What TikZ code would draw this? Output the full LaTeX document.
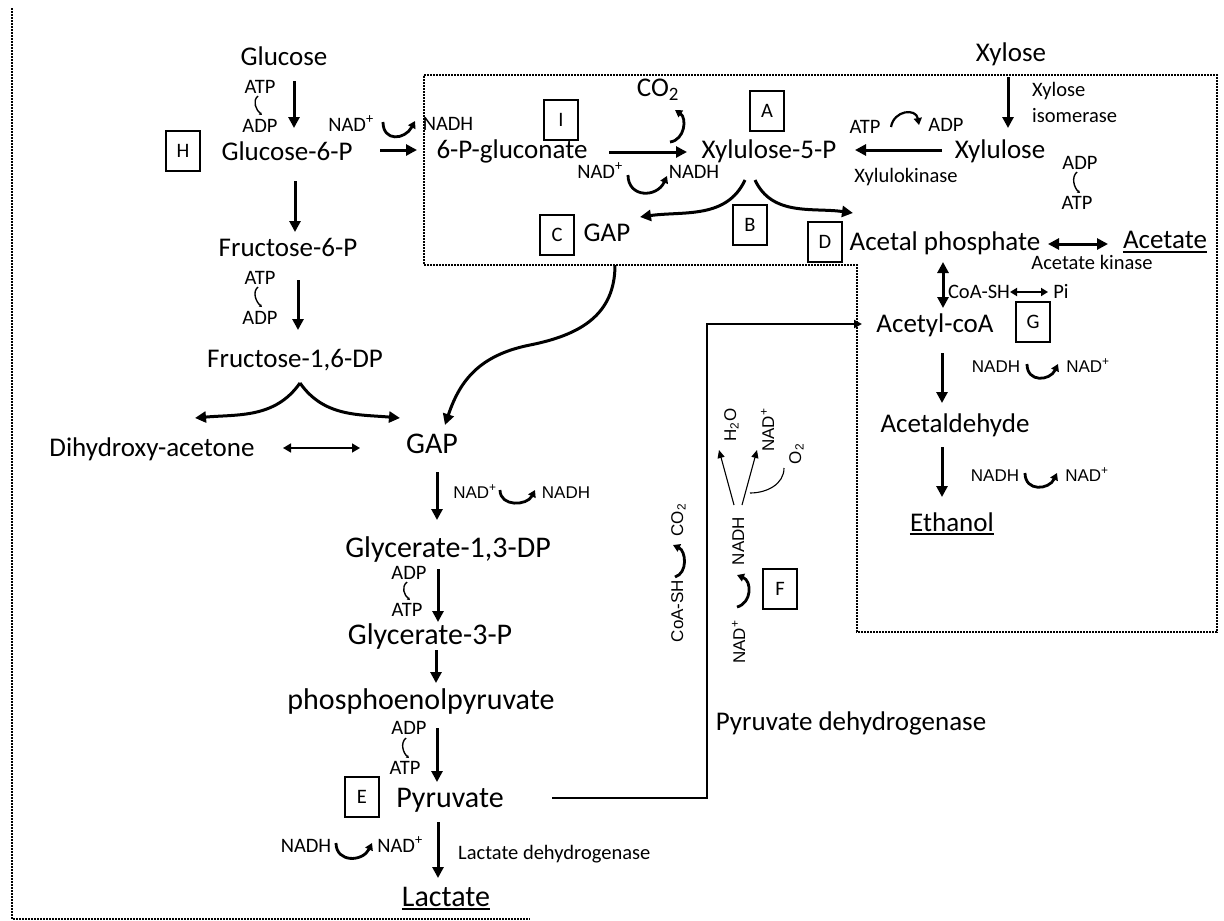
\documentclass[tikz,border=0pt]{standalone}
\usepackage{fontspec}
\setmainfont{Carlito}
\newfontfamily\arialfam{Liberation Sans}
\usetikzlibrary{arrows.meta}
\newcommand\FMain{\fontsize{27}{30}\selectfont}
\newcommand\FBig{\fontsize{30}{34}\selectfont}
\newcommand\FSmall{\fontsize{20.5}{24}\selectfont}
\newcommand\FAri{\arialfam\fontsize{17}{20}\selectfont}
\newcommand\nadp{NAD\textsuperscript{+}}
\tikzset{
 mn/.style={inner sep=0pt, font=\FMain, text height=17pt, text depth=0pt},
 bg/.style={inner sep=0pt, font=\FBig, text height=19pt, text depth=0pt},
 sm/.style={inner sep=0pt, font=\FSmall, text height=13pt, text depth=0pt},
 ar/.style={inner sep=0pt, font=\FAri, text height=12.2pt, text depth=0pt},
 lbox/.style={draw, line width=1.2pt, minimum width=34pt, minimum height=40pt, inner sep=0pt, font=\FSmall},
 arr/.style={line width=3pt, -{Triangle[length=11pt,width=11pt]}},
 darr/.style={line width=3pt, {Triangle[length=11pt,width=11pt]}-{Triangle[length=11pt,width=11pt]}},
 cof/.style={line width=2.8pt, -{Triangle[length=7pt,width=8pt]}},
 brk/.style={line width=1.4pt, -{Stealth[length=3pt,width=3.5pt]}},
 thinarr/.style={line width=1.1pt, -{Triangle[length=8pt,width=7pt]}},
 dots/.style={line width=1.6pt, dash pattern=on 1.6pt off 1.4pt},
 ul/.style={line width=1.6pt},
}
\begin{document}
\begin{tikzpicture}[x=1pt,y=1pt]
\useasboundingbox (0,0) rectangle (1224,-921);
% dotted regions
\draw[dots] (12,-8) -- (12,-919) -- (530,-919);
\draw[dots] (424,-75) -- (1217,-75) -- (1217,-632) -- (857,-632) -- (857,-265) -- (424,-265) -- cycle;

% glycolysis column
\node[mn] (glc) at (284,-57) {Glucose};
\node[sm] (atp1) at (260,-87) {ATP};
\node[sm] (adp1) at (260,-126) {ADP};
\node[lbox] (H) at (183,-151) {H};
\node[mn] (g6p) at (287,-152) {Glucose-6-P};
\node[sm] (nad1) at (351,-125) {\nadp};
\node[sm] (nadh1) at (448,-124) {NADH};
\node[mn] (f6p) at (288,-248) {Fructose-6-P};
\node[sm] (atp2) at (260,-278) {ATP};
\node[sm] (adp2) at (260,-318) {ADP};
\node[mn] (f16) at (295,-359) {Fructose-1,6-DP};
\node[mn] (dha) at (152,-448) {Dihydroxy-acetone};
\node[bg] (gap) at (432,-444) {GAP};
\node[ar] (nad2) at (475,-492) {\nadp};
\node[ar] (nadh2) at (566,-492) {NADH};
\node[bg] (g13) at (448,-548) {Glycerate-1,3-DP};
\node[sm] (adp3) at (409,-573) {ADP};
\node[sm] (atp3) at (407,-610) {ATP};
\node[bg] (g3p) at (430,-635) {Glycerate-3-P};
\node[bg] (pep) at (421,-700) {phosphoenolpyruvate};
\node[sm] (adp4) at (409,-728) {ADP};
\node[sm] (atp4) at (405,-768) {ATP};
\node[lbox] (E) at (362,-797) {E};
\node[bg] (pyr) at (450,-798) {Pyruvate};
\node[sm] (nadh3) at (306,-846) {NADH};
\node[sm] (nad3) at (400,-846) {\nadp};
\node[sm, anchor=west] (ldh) at (458,-853) {Lactate dehydrogenase};
\node[bg] (lac) at (446,-897) {Lactate};

% pentose part
\node[lbox] (I) at (561,-120) {I};
\node[mn] (gluc) at (512,-150) {6-P-gluconate};
\node[mn] (co2) at (658,-88) {CO\textsubscript{2}};
\node[lbox] (A) at (767,-111) {A};
\node[mn] (xu5p) at (769,-150) {Xylulose-5-P};
\node[sm] (nad4) at (600,-172) {\nadp};
\node[sm] (nadh4) at (694,-172) {NADH};
\node[lbox] (C) at (557,-235) {C};
\node[mn] (gapC) at (607,-233) {GAP};
\node[lbox] (B) at (750,-225) {B};
\node[mn] (xyl) at (1011,-53) {Xylose};
\node[sm, anchor=west] (xi1) at (1032,-90) {Xylose};
\node[sm, anchor=west] (xi2) at (1032,-116) {isomerase};
\node[sm] (atp5) at (865,-127) {ATP};
\node[sm] (adp5) at (946,-125) {ADP};
\node[mn] (xu) at (1000,-150) {Xylulose};
\node[sm] (xk) at (906,-176) {Xylulokinase};
\node[sm] (adp6) at (1080,-163) {ADP};
\node[sm] (atp6) at (1077,-203) {ATP};
\node[lbox] (D) at (825,-242) {D};
\node[mn] (acp) at (945,-242) {Acetal phosphate};
\node[mn] (ace) at (1165,-240) {Acetate};
\node[sm] (ak) at (1092,-263) {Acetate kinase};
\node[sm] (coa) at (979,-292) {CoA-SH};
\node[sm] (pi) at (1061,-292) {Pi};
\node[mn] (acoa) at (935,-324) {Acetyl-coA};
\node[lbox] (G) at (1033,-322) {G};
\node[ar] (nadh5) at (996,-366) {NADH};
\node[ar] (nad5) at (1088,-366) {\nadp};
\node[mn] (ald) at (955,-424) {Acetaldehyde};
\node[ar] (nadh6) at (995,-475) {NADH};
\node[ar] (nad6) at (1087,-475) {\nadp};
\node[mn] (eth) at (952,-523) {Ethanol};

% pyruvate dehydrogenase part
\node[mn] (pdh) at (851,-722) {Pyruvate dehydrogenase};
\node[ar, rotate=90] (coash) at (677,-611) {CoA-SH};
\node[ar, rotate=90] (co2b) at (677,-520) {CO\textsubscript{2}};
\node[ar, rotate=90] (nad7) at (739,-642) {\nadp};
\node[ar, rotate=90] (nadh7) at (738,-541) {NADH};
\node[lbox] (F) at (780,-589) {F};
\node[ar, rotate=90] (h2o) at (730,-425) {H\textsubscript{2}O};
\node[ar, rotate=90] (nad8) at (768,-430) {\nadp};
\node[ar, rotate=90] (o2) at (795,-454) {O\textsubscript{2}};
\coordinate (pdhcorner) at (707,-324);
\coordinate (gapmid) at (530,-345);

% underlines
\draw[ul] ([yshift=-3pt]ace.south west) -- ([yshift=-3pt]ace.south east);
\draw[ul] ([yshift=-2.5pt]eth.south west) -- ([yshift=-2.5pt]eth.south east);
\draw[ul] ([yshift=-2.5pt]lac.south west) -- ([yshift=-2.5pt]lac.south east);

% main arrows
\draw[arr] ([shift={(10,-24)}]glc.center) -- ([shift={(7,24)}]g6p.center);
\draw[arr] ([shift={(8,-29)}]g6p.center) -- ([shift={(7,16)}]f6p.center);
\draw[arr] ([shift={(10,-32)}]f6p.center) -- ([shift={(3,29)}]f16.center);
\draw[arr] ([shift={(93,2)}]g6p.center) -- ([shift={(-95,0)}]gluc.center);
\draw[arr] ([shift={(97,-2)}]gluc.center) -- ([shift={(-82,-2)}]xu5p.center);
\draw[arr] ([shift={(-3,-24)}]xyl.center) -- ([shift={(8,22)}]xu.center);
\draw[arr] ([shift={(-58,0)}]xu.center) -- ([shift={(86,0)}]xu5p.center);
\draw[arr] ([shift={(-24,-30)}]xu5p.center) to[out=-115,in=8] ([shift={(33,16)}]gapC.center);
\draw[arr] ([shift={(-14,-30)}]xu5p.center) to[out=-65,in=172] ([shift={(-92,29)}]acp.center);
\draw[darr] ([shift={(103,-2)}]acp.center) -- ([shift={(-57,-4)}]ace.center);
\draw[darr] ([shift={(-2,-20)}]acp.center) -- ([shift={(8,16)}]acoa.center);
\draw[line width=2.2pt, {Triangle[length=7pt,width=8pt]}-{Triangle[length=7pt,width=8pt]}] ([shift={(31,0)}]coa.center) -- ([shift={(-13,0)}]pi.center);
\draw[arr] ([shift={(7,-29)}]acoa.center) -- ([shift={(-13,21)}]ald.center);
\draw[arr] ([shift={(-13,-23)}]ald.center) -- ([shift={(-10,26)}]eth.center);
\draw[arr] ([shift={(5,-24)}]f16.center) to[out=-125,in=5] ([shift={(43,30)}]dha.center);
\draw[arr] ([shift={(5,-24)}]f16.center) to[out=-55,in=175] ([shift={(-32,26)}]gap.center);
\draw[line width=1.5pt, {Triangle[length=8pt,width=9pt]}-{Triangle[length=8pt,width=9pt]}] ([shift={(131,0)}]dha.center) -- ([shift={(-72,-4)}]gap.center);
\draw[arr] ([shift={(8,-32)}]gapC.center) .. controls +(0,-50) and +(50,10) .. (gapmid) .. controls +(-50,-10) and +(15,45) .. ([shift={(13,19)}]gap.center);
\draw[arr] ([shift={(5,-28)}]gap.center) -- ([shift={(-11,28)}]g13.center);
\draw[arr] ([shift={(-10,-21)}]g13.center) -- ([shift={(8,13)}]g3p.center);
\draw[arr] ([shift={(6,-15)}]g3p.center) -- ([shift={(15,17)}]pep.center);
\draw[arr] ([shift={(16,-28)}]pep.center) -- ([shift={(-13,16)}]pyr.center);
\draw[arr] ([shift={(-12,-24)}]pyr.center) -- ([shift={(-8,19)}]lac.center);
\draw[line width=2.2pt, -{Triangle[length=8pt,width=8pt]}] ([shift={(102,0)}]pyr.center) -| (pdhcorner) -- ([shift={(-73,0)}]acoa.center);

% cofactor curves
\draw[cof] ([shift={(32,3)}]nad1.center) .. controls +(0,-20) and +(-10,-19) .. ([shift={(-33,3)}]nadh1.center);
\draw[cof] ([shift={(28,-3)}]nad4.center) .. controls +(0,-23) and +(-10,-22) .. ([shift={(-27,-4)}]nadh4.center);
\draw[cof] ([shift={(25,2)}]nad2.center) .. controls +(0,-17) and +(-8,-16) .. ([shift={(-31,2)}]nadh2.center);
\draw[cof] ([shift={(31,2)}]nadh5.center) .. controls +(0,-19) and +(-8,-17) .. ([shift={(-30,2)}]nad5.center);
\draw[cof] ([shift={(30,2)}]nadh6.center) .. controls +(0,-19) and +(-8,-17) .. ([shift={(-30,2)}]nad6.center);
\draw[cof] ([shift={(30,3)}]nadh3.center) .. controls +(0,-20) and +(-9,-19) .. ([shift={(-28,3)}]nad3.center);
\draw[cof] ([shift={(-99,8)}]xu5p.center) .. controls +(15,2) and +(12,-8) .. ([shift={(17,-22)}]co2.center);
\draw[line width=2.2pt, -{Triangle[length=7pt,width=8pt]}] ([shift={(26,0)}]atp5.center) .. controls +(3,17) and +(-3,17) .. ([shift={(-27,0)}]adp5.center);
\draw[cof] ([shift={(-2,34)}]coash.center) .. controls +(13,4) and +(13,-6) .. ([shift={(-4,-25)}]co2b.center);
\draw[cof] ([shift={(-2,35)}]nad7.center) .. controls +(15,4) and +(15,-6) .. ([shift={(-1,-34)}]nadh7.center);

% small brackets
\draw[brk] ([shift={(-2,-9)}]atp1.center) .. controls +(-6,-5) and +(-6,5) .. ([shift={(2,11)}]adp1.center);
\draw[brk] ([shift={(-2,-9)}]atp2.center) .. controls +(-6,-5) and +(-6,5) .. ([shift={(2,11)}]adp2.center);
\draw[brk] ([shift={(-2,-9)}]adp3.center) .. controls +(-6,-5) and +(-6,5) .. ([shift={(3,10)}]atp3.center);
\draw[brk] ([shift={(-3,-10)}]adp4.center) .. controls +(-6,-5) and +(-6,5) .. ([shift={(4,10)}]atp4.center);
\draw[brk] ([shift={(-3,-9)}]adp6.center) .. controls +(-6,-5) and +(-6,5) .. ([shift={(3,10)}]atp6.center);

% electron transport
\draw[thinarr] ([shift={(-4,36)}]nadh7.center) -- ([shift={(-11,-25)}]h2o.center);
\draw[thinarr] ([shift={(4,36)}]nadh7.center) -- ([shift={(-11,-20)}]nad8.center);
\draw[line width=1.1pt] ([shift={(12,48)}]nadh7.center) to[out=0,in=-90] ([shift={(-11,-14)}]o2.center);
\end{tikzpicture}
\end{document}
